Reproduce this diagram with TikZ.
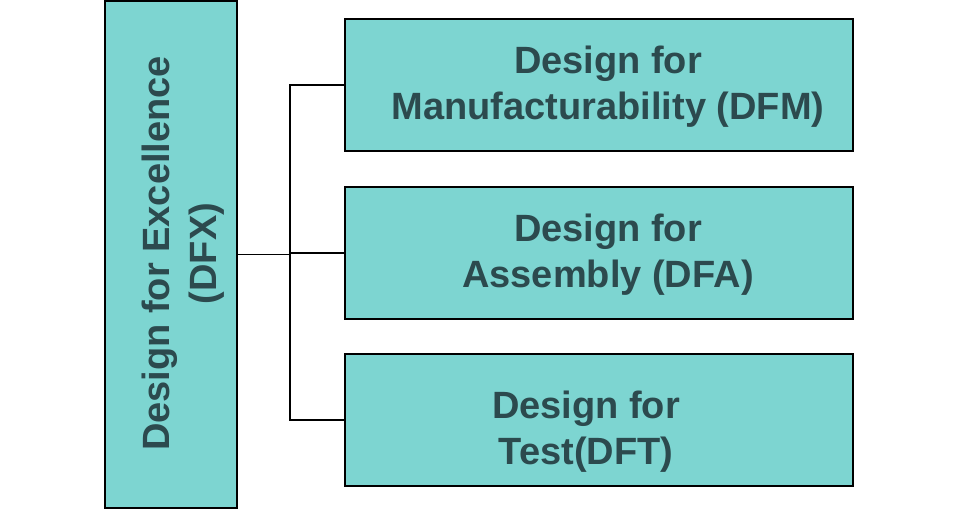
\documentclass[tikz,border=0pt]{standalone}
\usepackage{fontspec}
\setmainfont{Liberation Sans}
\definecolor{boxfill}{RGB}{125,213,209}
\definecolor{boxtext}{RGB}{44,74,78}
\tikzset{
  dfbox/.style={draw=black, line width=1.3pt, fill=boxfill, inner sep=0pt, outer sep=0pt},
  dftext/.style={text=boxtext, font=\bfseries\fontsize{38}{46}\selectfont, align=center, inner sep=0pt},
  conn/.style={draw=black, line width=1.3pt},
}
\begin{document}
\begin{tikzpicture}[x=1pt,y=-1pt]
\useasboundingbox (0,0) rectangle (958,510);
% left box
\node[dfbox, minimum width=132pt, minimum height=507pt] (L) at (171,254.5) {};
\node[dftext, font=\bfseries\fontsize{38}{47}\selectfont, rotate=90] (LT) at (183.6,253.5) {Design for Excellence\\(DFX)};
% right boxes
\node[dfbox, minimum width=508pt, minimum height=132pt] (B1) at (599,85) {};
\node[dfbox, minimum width=508pt, minimum height=132pt] (B2) at (599,253) {};
\node[dfbox, minimum width=508pt, minimum height=132pt] (B3) at (599,420) {};
\node[dftext] (T1) at (608,87) {Design for\\Manufacturability (DFM)};
\node[dftext] (T2) at (608,255) {Design for\\Assembly (DFA)};
\node[dftext] (T3) at (586,431.5) {Design for\\Test(DFT)};
% connectors
\coordinate (J) at (290,254.5);
\draw[conn] (L.east) -- (J) |- (B1.west);
\draw[conn] (J) |- (B2.west);
\draw[conn] (J) |- (B3.west);
\end{tikzpicture}
\end{document}
